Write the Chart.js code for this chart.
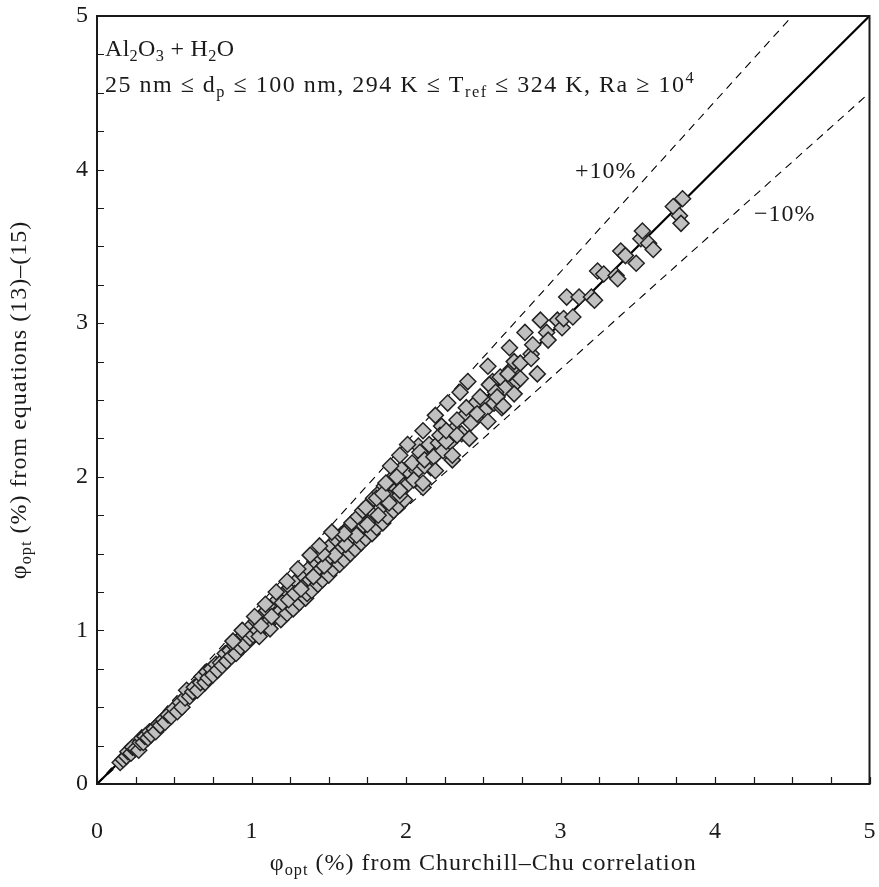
<!DOCTYPE html>
<html>
<head>
<meta charset="utf-8">
<script src="https://cdn.jsdelivr.net/npm/chart.js@4.4.1/dist/chart.umd.min.js"></script>
<style>
  html, body { margin: 0; padding: 0; background: #fff; }
  #wrap { width: 879px; height: 887px; }
</style>
</head>
<body>
<div id="wrap"><canvas id="chart" width="879" height="887"></canvas></div>
<script>
// phi_opt (%) from Churchill–Chu correlation (x) vs from equations (13)–(15) (y)
const churchillChu = [
  0.15,0.17,0.19,0.20,0.22,0.23,0.25,0.27,0.28,0.29,0.30,0.31,0.33,0.34,0.35,0.37,0.38,0.40,0.41,0.43,
  0.44,0.46,0.48,0.50,0.52,0.54,0.55,0.57,0.58,0.60,0.62,0.63,0.65,
  0.67,0.68,0.70,0.71,0.72,0.74,0.75,0.77,0.78,0.80,0.81,0.83,0.84,0.86,0.87,0.89,0.90,0.92,0.93,0.95,
  0.96,0.98,0.99,1.00,1.01,1.03,1.04,1.05,1.07,1.08,1.10,1.11,1.12,1.14,1.15,1.17,1.18,1.19,
  1.21,1.22,1.23,1.25,1.26,1.27,1.29,1.30,1.31,1.33,1.34,1.35,1.36,1.37,1.38,1.39,1.41,1.42,1.43,1.44,
  1.45,1.46,1.48,1.49,1.50,1.51,1.52,1.53,1.55,1.56,1.57,1.58,1.59,1.60,1.62,1.63,1.64,1.65,1.66,1.67,
  1.69,1.70,1.71,1.72,1.73,1.74,1.76,1.77,1.78,1.79,1.80,1.81,1.83,1.84,1.85,1.86,1.87,1.88,1.90,1.91,
  1.92,1.93,1.94,1.95,1.97,1.98,1.99,
  1.06,1.13,1.20,1.24,1.28,1.32,1.40,1.47,1.54,1.61,1.68,1.75,1.82,1.89,1.96,2.00,2.03,2.07,2.08,2.14,
  2.16,2.20,2.23,2.25,2.28,2.31,2.36,2.38,2.44,2.45,2.50,2.51,2.56,2.57,2.64,2.68,2.72,1.74,1.81,1.60,
  1.46,0.88,0.94,1.02,1.09,1.16,1.23,1.30,1.38,1.44,1.52,
  1.85,1.87,1.90,1.94,1.96,1.96,2.01,2.04,2.05,2.09,2.11,2.11,2.11,2.12,2.12,2.15,2.18,2.19,2.19,2.21,
  2.22,2.24,2.26,2.26,2.27,2.30,2.30,2.33,2.33,2.35,2.39,2.40,2.41,2.42,2.46,2.48,2.53,2.53,2.54,2.58,
  2.59,2.61,2.62,2.63,2.66,2.67,2.70,2.70,2.74,2.74,
  2.77,2.81,2.81,2.82,2.85,2.87,2.91,2.92,2.98,3.01,3.02,3.04,3.08,3.12,3.20,3.22,3.24,3.28,3.36,3.37,
  3.39,3.42,3.49,3.52,3.53,3.57,3.60,3.73,3.77,3.78,3.79
];
const fromEquations = [
  0.14,0.16,0.18,0.21,0.20,0.24,0.23,0.22,0.27,0.30,0.27,0.31,0.30,0.34,0.32,0.36,0.34,0.39,0.38,0.42,
  0.40,0.45,0.44,0.49,0.47,0.53,0.50,0.56,0.61,0.57,0.60,0.63,0.61,
  0.66,0.70,0.66,0.73,0.69,0.75,0.71,0.78,0.74,0.79,0.77,0.85,0.80,0.87,0.83,0.90,0.85,0.94,0.89,0.97,
  0.91,1.00,0.95,1.03,0.97,1.06,1.00,0.96,1.10,1.04,1.13,1.06,1.01,1.16,1.10,1.20,1.12,1.07,
  1.24,1.16,1.11,1.28,1.21,1.14,1.32,1.25,1.18,1.36,1.29,1.21,1.24,1.40,1.33,1.26,1.45,1.37,1.30,1.48,
  1.40,1.33,1.52,1.44,1.36,1.55,1.47,1.40,1.59,1.51,1.43,1.62,1.54,1.46,1.66,1.58,1.50,1.70,1.61,1.53,
  1.74,1.65,1.57,1.78,1.68,1.60,1.82,1.72,1.63,1.86,1.76,1.67,1.90,1.80,1.70,1.94,1.84,1.74,1.97,1.88,
  1.78,2.01,1.92,1.81,2.05,1.95,1.85,
  1.03,1.09,1.18,1.20,1.24,1.27,1.35,1.42,1.49,1.56,1.62,1.69,1.75,1.83,1.88,1.94,2.02,2.04,2.20,2.17,
  2.06,2.15,2.33,2.20,2.22,2.31,2.28,2.40,2.47,2.38,2.50,2.43,2.62,2.48,2.58,2.70,2.62,1.80,1.86,1.63,
  1.50,0.93,1.00,1.09,1.17,1.25,1.32,1.40,1.49,1.55,1.64,
  1.89,1.96,2.07,2.00,1.91,2.14,2.21,2.09,1.98,2.16,1.93,1.96,2.30,2.07,2.11,2.21,2.13,2.04,2.40,2.22,
  2.27,2.17,2.23,2.30,2.48,2.11,2.14,2.37,2.27,2.55,2.45,2.62,2.25,2.35,2.41,2.52,2.36,2.72,2.60,2.55,
  2.52,2.65,2.45,2.46,2.67,2.84,2.54,2.75,2.64,2.74,
  2.94,2.80,2.77,2.86,2.67,3.02,2.94,2.89,3.02,2.97,3.03,3.17,3.04,3.17,3.17,3.15,3.34,3.32,3.31,3.29,
  3.47,3.44,3.39,3.55,3.60,3.52,3.48,3.76,3.70,3.65,3.81
];

// reference lines: perfect agreement and +/-10 %
const perfectX = [0, 5];
const perfectY = [0, 5];
const plus10X = [0, 4.5];
const plus10Y = [0, 5];
const minus10X = [0, 5];
const minus10Y = [0, 4.5];

const axisMin = 0;
const axisMax = 5;
const tickStep = 0.25;

const serif = '"Liberation Serif", "DejaVu Serif", serif';
const ink = '#1a1a1a';

function pairs(xs, ys) {
  return xs.map((x, i) => ({ x: x, y: ys[i] }));
}

// draws text runs with sub/superscripts
function drawRich(ctx, runs, x, y, size, align, spacing) {
  const small = size * 0.68;
  ctx.letterSpacing = (spacing === undefined ? 1 : spacing) + 'px';
  let total = 0;
  runs.forEach(r => {
    ctx.font = (r.sub || r.sup ? small : size) + 'px ' + serif;
    total += ctx.measureText(r.t).width;
  });
  let cx = align === 'center' ? x - total / 2 : x;
  ctx.textAlign = 'left';
  ctx.textBaseline = 'alphabetic';
  runs.forEach(r => {
    ctx.font = (r.sub || r.sup ? small : size) + 'px ' + serif;
    let dy = 0;
    if (r.sub) dy = size * 0.22;
    if (r.sup) dy = -size * 0.38;
    ctx.fillText(r.t, cx, y + dy);
    cx += ctx.measureText(r.t).width;
  });
  ctx.letterSpacing = '0px';
}

const decorations = {
  id: 'decorations',
  afterDatasetsDraw(chart) {
    const ctx = chart.ctx;
    const a = chart.chartArea;
    const xs = chart.scales.x, ys = chart.scales.y;
    ctx.save();
    ctx.strokeStyle = ink;
    ctx.fillStyle = ink;

    // frame
    ctx.lineWidth = 2;
    ctx.strokeRect(a.left, a.top, a.right - a.left, a.bottom - a.top);

    // inward tick marks
    ctx.lineWidth = 1.2;
    ctx.beginPath();
    xs.ticks.forEach(t => {
      const px = Math.round(xs.getPixelForValue(t.value)) + 0.5;
      ctx.moveTo(px, a.bottom);
      ctx.lineTo(px, a.bottom - 7);
    });
    ys.ticks.forEach(t => {
      const py = Math.round(ys.getPixelForValue(t.value)) + 0.5;
      ctx.moveTo(a.left, py);
      ctx.lineTo(a.left + 7, py);
    });
    ctx.stroke();

    // annotation text
    drawRich(ctx, [
      { t: 'Al' }, { t: '2', sub: true }, { t: 'O' }, { t: '3', sub: true },
      { t: ' + H' }, { t: '2', sub: true }, { t: 'O' }
    ], a.left + 8, 56, 24, 'left', 0.3);
    drawRich(ctx, [
      { t: '25 nm ≤ d' }, { t: 'p', sub: true }, { t: ' ≤ 100 nm, 294 K ≤ T' },
      { t: 'ref', sub: true }, { t: ' ≤ 324 K, Ra ≥ 10' }, { t: '4', sup: true }
    ], a.left + 8, 92, 24, 'left', 1.5);

    drawRich(ctx, [{ t: '+10%' }], 575, 178, 24);
    drawRich(ctx, [{ t: '\u221210%' }], 754, 221, 24);

    // axis titles
    drawRich(ctx, [
      { t: '\u03c6' }, { t: 'opt', sub: true }, { t: ' (%) from Churchill\u2013Chu correlation' }
    ], (a.left + a.right) / 2, 870, 24, 'center');

    ctx.save();
    ctx.translate(26, (a.top + a.bottom) / 2);
    ctx.rotate(-Math.PI / 2);
    drawRich(ctx, [
      { t: '\u03c6' }, { t: 'opt', sub: true }, { t: ' (%) from equations (13)\u2013(15)' }
    ], 0, 0, 24, 'center');
    ctx.restore();

    ctx.restore();
  }
};

const tickFont = { family: serif, size: 24 };

new Chart(document.getElementById('chart'), {
  type: 'scatter',
  data: {
    datasets: [
      {
        label: 'data',
        data: pairs(churchillChu, fromEquations),
        pointStyle: 'rectRot',
        pointRadius: 8,
        backgroundColor: '#c0c0c0',
        borderColor: '#222',
        borderWidth: 1.5,
        order: 0
      },
      {
        label: 'y = x',
        data: pairs(perfectX, perfectY),
        showLine: true,
        borderColor: '#000',
        borderWidth: 2.2,
        pointRadius: 0,
        order: 1
      },
      {
        label: '+10%',
        data: pairs(plus10X, plus10Y),
        showLine: true,
        borderColor: '#000',
        borderWidth: 1.1,
        borderDash: [8, 6],
        pointRadius: 0,
        order: 2
      },
      {
        label: '-10%',
        data: pairs(minus10X, minus10Y),
        showLine: true,
        borderColor: '#000',
        borderWidth: 1.1,
        borderDash: [8, 6],
        pointRadius: 0,
        order: 3
      }
    ]
  },
  options: {
    responsive: false,
    animation: false,
    devicePixelRatio: 1,
    layout: { padding: { top: 16, right: 9, left: 0, bottom: 0 } },
    plugins: {
      legend: { display: false },
      tooltip: { enabled: false }
    },
    scales: {
      x: {
        type: 'linear',
        min: axisMin,
        max: axisMax,
        afterFit: s => { s.height = 103; s.paddingLeft = 0; s.paddingRight = 0; },
        grid: { display: false, drawTicks: false },
        border: { display: false },
        ticks: {
          stepSize: tickStep,
          autoSkip: false,
          padding: 33,
          color: ink,
          font: tickFont,
          maxRotation: 0,
          callback: v => Number.isInteger(v) ? String(v) : ''
        }
      },
      y: {
        type: 'linear',
        min: axisMin,
        max: axisMax,
        afterFit: s => { s.width = 97; s.paddingTop = 0; s.paddingBottom = 0; },
        grid: { display: false, drawTicks: false },
        border: { display: false },
        ticks: {
          stepSize: tickStep,
          autoSkip: false,
          padding: 9,
          color: ink,
          font: tickFont,
          callback: v => Number.isInteger(v) ? String(v) : ''
        }
      }
    }
  },
  plugins: [decorations]
});
</script>
</body>
</html>
